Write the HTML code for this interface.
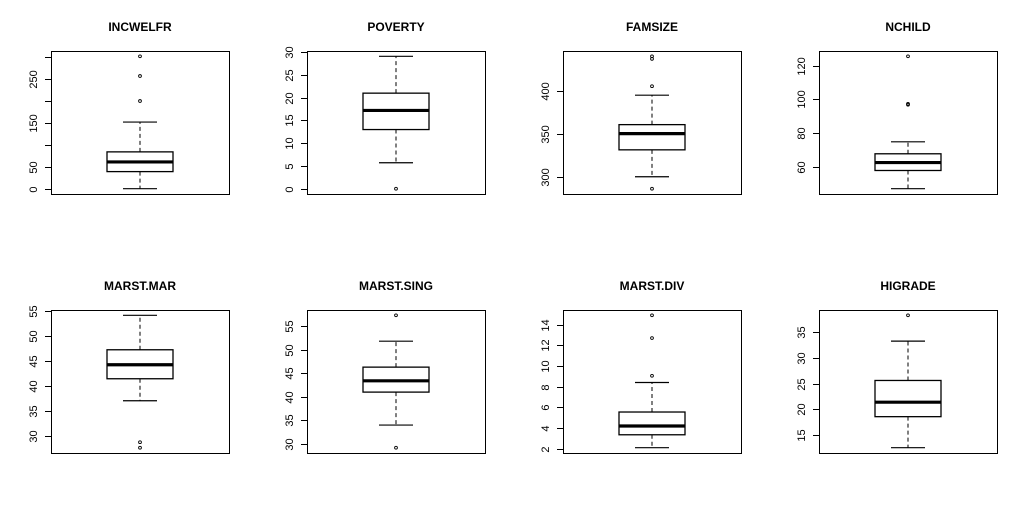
<!DOCTYPE html>
<html><head><meta charset="utf-8">
<style>
html,body{margin:0;padding:0;background:#fff;}
svg{display:block;}
text{font-family:"Liberation Sans",Arial,sans-serif;fill:#000;}
</style></head>
<body>
<svg id="chart" width="1024" height="518" viewBox="0 0 1024 518" xmlns="http://www.w3.org/2000/svg"></svg>
<script>
const titles = ["INCWELFR","POVERTY","FAMSIZE","NCHILD","MARST.MAR","MARST.SING","MARST.DIV","HIGRADE"];
const lowWhisker = [0, 5.7, 300, 47, 37.0, 34.0, 2.1, 12.6];
const q1Values = [39, 13.0, 331.5, 57.8, 41.4, 41.0, 3.35, 18.6];
const medianValues = [61, 17.2, 350.5, 62.5, 44.2, 43.4, 4.2, 21.4];
const q3Values = [84, 21.0, 361, 67.7, 47.2, 46.3, 5.55, 25.6];
const highWhisker = [152, 29.1, 395.5, 74.8, 54.1, 51.8, 8.4, 33.2];
const outlierValues = [[200,257,302],[0],[286,406,438,441],[96.8,97.3,125.5],[28.7,27.6],[57.3,29.2],[9.05,12.7,14.9],[38.2]];
const tickValues = [[0,50,100,150,200,250,300],[0,5,10,15,20,25,30],[300,350,400],[60,80,100,120],[30,35,40,45,50,55],[30,35,40,45,50,55],[2,4,6,8,10,12,14],[15,20,25,30,35]];
const tickLabels = [["0","50","","150","","250",""],["0","5","10","15","20","25","30"],["300","350","400"],["60","80","100","120"],["30","35","40","45","50","55"],["30","35","40","45","50","55"],["2","4","6","8","10","12","14"],["15","20","25","30","35"]];

const NS = "http://www.w3.org/2000/svg";
const svg = document.getElementById("chart");
function mk(tag, attrs, parent){
  const e = document.createElementNS(NS, tag);
  for (const k in attrs) e.setAttribute(k, attrs[k]);
  parent.appendChild(e);
  return e;
}
const panelLeft = [51,307,563,819];
const panelTop = [51,310];
const PW = 178, PH = 143;

titles.forEach((t,i)=>{
  const col = i%4, row = Math.floor(i/4);
  const L = panelLeft[col], T = panelTop[row], B = T+PH;
  const g = mk("g", {}, svg);
  
  
  const all = [lowWhisker[i], highWhisker[i], ...outlierValues[i]];
  let mn = Math.min(...all), mx = Math.max(...all);
  const pad = (mx-mn)*0.04; mn -= pad; mx += pad;
  const y = v => B - (v-mn)/(mx-mn)*PH;
  const cx = L + PW/2;

  const title = mk("text", {x:cx, y:T-20, "text-anchor":"middle", "font-size":"12", "font-weight":"bold"}, g);
  title.textContent = t;
  
  

  const frame = mk("rect", {x:L+0.5, y:T+0.5, width:PW, height:PH, fill:"none", stroke:"#000", "stroke-width":"1"}, g);
  
  

  const ax = mk("g", {}, g);
  
  
  const tv = tickValues[i];
  tv.forEach((v,k)=>{
    const yy = Math.round(y(v))+0.5;
    const tk = mk("line", {x1:L-6, x2:L, y1:yy, y2:yy, stroke:"#000"}, ax);
    
    
    if (tickLabels[i][k]) {
      const lb = mk("text", {x:0, y:0, "text-anchor":"middle", "font-size":"11", transform:`translate(${L-14},${yy}) rotate(-90)`}, ax);
      lb.textContent = tickLabels[i][k];
      
      
    }
  });

  const bx = mk("g", {}, g);
  
  
  const wlo = mk("line", {x1:cx, x2:cx, y1:y(q1Values[i]), y2:y(lowWhisker[i]), stroke:"#000", "stroke-dasharray":"4,3"}, bx);
  
  const whi = mk("line", {x1:cx, x2:cx, y1:y(q3Values[i]), y2:y(highWhisker[i]), stroke:"#000", "stroke-dasharray":"4,3"}, bx);
  
  const c1 = mk("line", {x1:cx-17, x2:cx+17, y1:y(lowWhisker[i]), y2:y(lowWhisker[i]), stroke:"#000", "stroke-width":"1.2"}, bx);
  
  const c2 = mk("line", {x1:cx-17, x2:cx+17, y1:y(highWhisker[i]), y2:y(highWhisker[i]), stroke:"#000", "stroke-width":"1.2"}, bx);
  
  const r = mk("rect", {x:cx-33, y:y(q3Values[i]), width:66, height:y(q1Values[i])-y(q3Values[i]), fill:"#fff", stroke:"#000", "stroke-width":"1.3"}, bx);
  
  const md = mk("line", {x1:cx-33, x2:cx+33, y1:y(medianValues[i]), y2:y(medianValues[i]), stroke:"#000", "stroke-width":"3.2"}, bx);
  
  outlierValues[i].forEach(v=>{
    const o = mk("circle", {cx:cx, cy:y(v), r:1.4, fill:"none", stroke:"#000", "stroke-width":"0.9"}, bx);
    
    
  });
});
</script>
</body></html>
